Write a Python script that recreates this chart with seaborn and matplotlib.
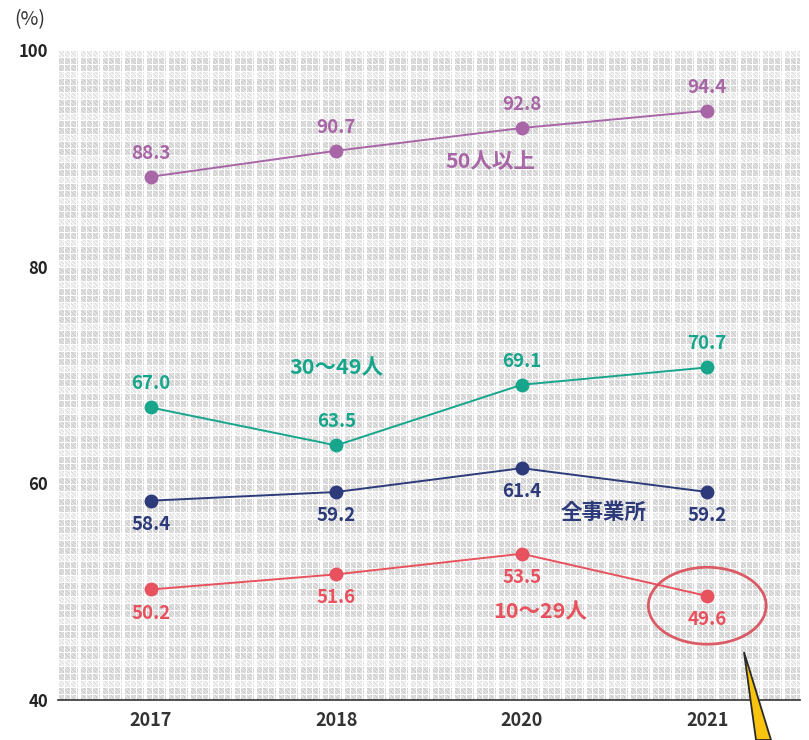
import numpy as np
import pandas as pd
import matplotlib
matplotlib.use("Agg")
import matplotlib.pyplot as plt
from matplotlib.patches import Ellipse, Polygon
import seaborn as sns

# --- data -------------------------------------------------------------
years = ["2017", "2018", "2020", "2021"]
series_names = ["50人以上", "30〜49人", "全事業所", "10〜29人"]
vals_50plus = [88.3, 90.7, 92.8, 94.4]
vals_30_49 = [67.0, 63.5, 69.1, 70.7]
vals_all = [58.4, 59.2, 61.4, 59.2]
vals_10_29 = [50.2, 51.6, 53.5, 49.6]

colors = {
    "50人以上": "#a866a6",
    "30〜49人": "#17a68c",
    "全事業所": "#2d3b7b",
    "10〜29人": "#e8525e",
}
# value label placement: +1 above the point, -1 below
label_side = {"50人以上": 1, "30〜49人": 1, "全事業所": -1, "10〜29人": -1}
# series name label positions (x index, y value)
name_pos = {
    "50人以上": (1.83, 89.7),
    "30〜49人": (1.0, 70.7),
    "全事業所": (2.44, 57.3),
    "10〜29人": (2.10, 48.1),
}

all_vals = [vals_50plus, vals_30_49, vals_all, vals_10_29]
df = pd.DataFrame(
    [
        {"x": i, "year": y, "series": s, "value": v}
        for s, vs in zip(series_names, all_vals)
        for i, (y, v) in enumerate(zip(years, vs))
    ]
)

# --- figure -----------------------------------------------------------
sns.set_theme(style="white")
plt.rcParams["font.family"] = ["Noto Sans CJK JP", "DejaVu Sans"]

fig = plt.figure(figsize=(8.09, 7.40), dpi=100)
ax = fig.add_axes([58 / 809, 40 / 740, 742 / 809, 650 / 740])

# textured backdrop made of tiny glyph-like blocks
H, W = 650, 742
yy, xx = np.mgrid[0:H, 0:W]
row = yy % 7
col = xx % 22
glyph = ((row >= 1) & (col % 6 != 0) & (col < 20)).astype(float)
shade = 0.80 + 0.10 * (((xx * 3 + yy * 5) % 4) / 3.0)
dense = ((yy // 7) % 3 != 0)
img = np.where(glyph > 0, np.where(dense, shade, shade + 0.07), 1.0)
img = np.clip(img, 0, 1)
ax.imshow(img, cmap="gray", vmin=0, vmax=1, extent=(-0.5, 3.5, 40, 100),
          aspect="auto", interpolation="nearest", zorder=0)

sns.lineplot(data=df, x="x", y="value", hue="series", palette=colors,
             hue_order=series_names, marker="o", markersize=10,
             markeredgewidth=0, linewidth=1.4, legend=False, ax=ax, zorder=3)

for s, vs in zip(series_names, all_vals):
    for i, v in enumerate(vs):
        ax.annotate(f"{v:.1f}", (i, v), xytext=(0, 17 * label_side[s]),
                    textcoords="offset points", ha="center", va="center",
                    fontsize=13.5, fontweight="bold", color=colors[s], zorder=4)
    nx, ny = name_pos[s]
    ax.text(nx, ny, s, ha="center", va="center", fontsize=15.5,
            fontweight="bold", color=colors[s], zorder=4)

# emphasis ring around the latest 10〜29人 value
ax.add_patch(Ellipse((3.0, 48.7), 0.635, 7.1, fill=False, edgecolor="#d94b57",
                     linewidth=2.0, alpha=0.9, zorder=5))

ax.set_xlim(-0.5, 3.5)
ax.set_ylim(40, 100)
ax.set_yticks([40, 60, 80, 100])
ax.set_yticklabels(["40", "60", "80", "100"], fontsize=12, fontweight="bold",
                   color="#222222")
ax.set_xticks(range(len(years)))
ax.set_xticklabels(years, fontsize=13, fontweight="bold", color="#333333")
ax.set_xticks([-0.5, 0.5, 1.5, 2.5, 3.5], minor=True)
ax.tick_params(axis="x", which="major", length=0, pad=8)
ax.tick_params(axis="x", which="minor", length=7, width=1.2, color="#333333",
               direction="out")
ax.tick_params(axis="y", length=0, pad=7)
ax.set_xlabel("")
ax.set_ylabel("")
for side in ["top", "right", "left"]:
    ax.spines[side].set_visible(False)
ax.spines["bottom"].set_color("#333333")
ax.spines["bottom"].set_linewidth(1.2)
ax.spines["bottom"].set_zorder(6)

fig.text(14 / 809, 1 - 20 / 740, "(%)", fontsize=14, color="#333333",
         ha="left", va="center")

# yellow pointer coming up from the bottom edge
fig.patches.append(Polygon(
    [(744 / 809, 1 - 652 / 740), (756 / 809, 0.0), (771 / 809, 0.0)],
    closed=True, facecolor="#f9c30f", edgecolor="#2a2a2a", linewidth=1.3,
    transform=fig.transFigure, zorder=10))

fig.savefig("out.png", dpi=100)
